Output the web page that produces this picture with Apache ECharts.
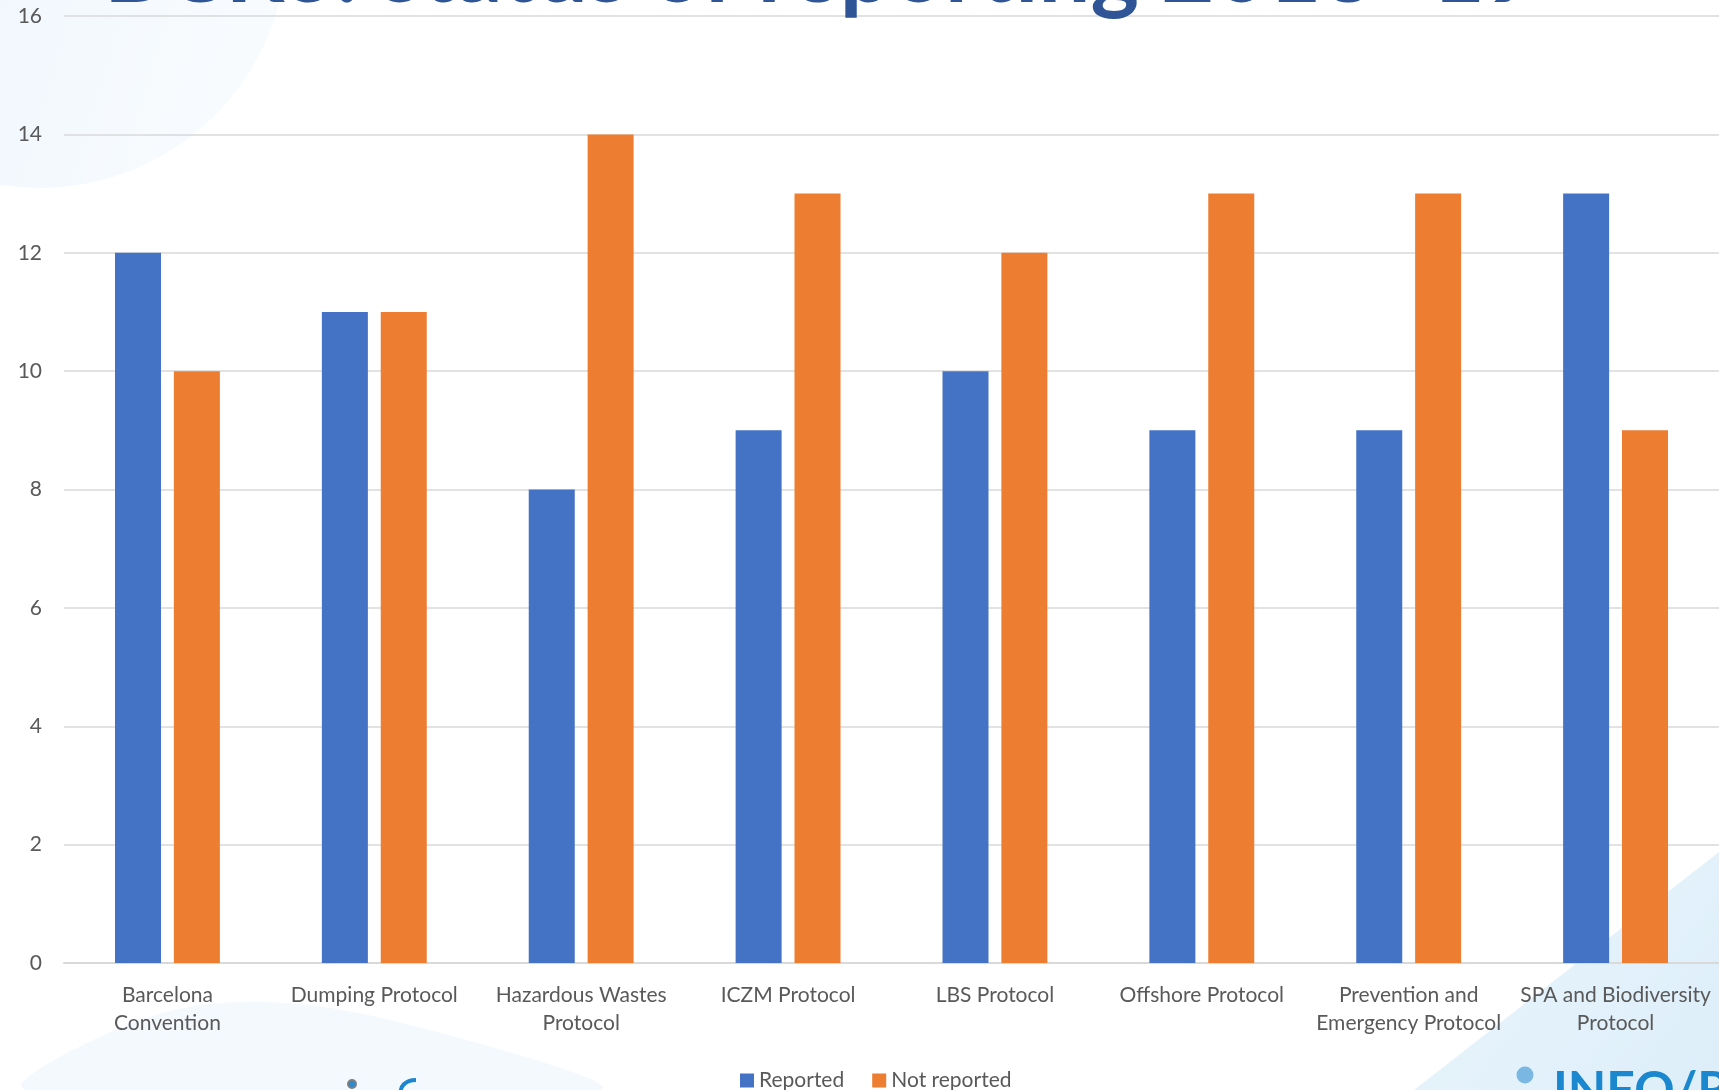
<!DOCTYPE html>
<html>
  <head>
    <meta charset="utf-8" />
    <title>BCRS status of reporting</title>
    <script src="https://cdn.jsdelivr.net/npm/echarts@6/dist/echarts.min.js"></script>
    <style>
      body {
        margin: 0;
        padding: 0;
        background: #ffffff;
      }
      #main {
        width: 1719px;
        height: 1090px;
      }
    </style>
  </head>
  <body>
    <div id="main"></div>
    <script type="text/javascript">
      var categories = [
        "Barcelona\nConvention",
        "Dumping Protocol",
        "Hazardous Wastes\nProtocol",
        "ICZM Protocol",
        "LBS Protocol",
        "Offshore Protocol",
        "Prevention and\nEmergency Protocol",
        "SPA and Biodiversity\nProtocol",
      ];
      var reported = [12, 11, 8, 9, 10, 9, 9, 13];
      var notReported = [10, 11, 14, 13, 12, 13, 13, 9];
      var seriesNames = ["Reported", "Not reported"];
      var titleText = "BCRS: status of reporting 2018 -19";

      var myChart = echarts.init(document.getElementById("main"));
      var labelColor = "#595959";
      var font = "Lato, 'Open Sans', sans-serif";

      function linear(x2, y2, c1, c2) {
        return {
          type: "linear",
          x: 0,
          y: 0,
          x2: x2,
          y2: y2,
          colorStops: [
            { offset: 0, color: c1 },
            { offset: 1, color: c2 },
          ],
        };
      }

      var option = {
        backgroundColor: "#ffffff",
        animation: false,
        grid: {
          left: 64,
          right: -3,
          top: 16,
          bottom: 127,
        },
        legend: {
          left: 735,
          top: 1065,
          itemWidth: 14,
          itemHeight: 14,
          itemGap: 28,
          icon: "rect",
          textStyle: {
            color: labelColor,
            fontSize: 21,
            fontFamily: font,
          },
          data: seriesNames,
        },
        xAxis: {
          type: "category",
          data: categories,
          axisLine: {
            lineStyle: { color: "#D9D9D9", width: 2 },
          },
          axisTick: { show: false },
          axisLabel: {
            color: labelColor,
            fontSize: 21,
            fontFamily: font,
            lineHeight: 28,
            margin: 18,
            interval: 0,
          },
        },
        yAxis: {
          type: "value",
          min: 0,
          max: 16,
          interval: 2,
          axisLine: { show: false },
          axisTick: { show: false },
          axisLabel: {
            color: labelColor,
            fontSize: 21,
            fontFamily: font,
            margin: 22,
          },
          splitLine: {
            lineStyle: { color: "#D9D9D9", width: 1.5 },
          },
        },
        series: [
          {
            name: seriesNames[0],
            type: "bar",
            data: reported,
            barWidth: 46,
            barGap: "28%",
            itemStyle: { color: "#4472C4" },
          },
          {
            name: seriesNames[1],
            type: "bar",
            data: notReported,
            barWidth: 46,
            itemStyle: { color: "#ED7D31" },
          },
        ],
        graphic: [
          // soft background shapes from the slide
          {
            type: "circle",
            z: -10,
            silent: true,
            shape: { cx: 40, cy: -59, r: 247 },
            style: { fill: linear(1, 0.3, "#E8F3FB", "#F8FBFE") },
          },
          {
            type: "polygon",
            z: -10,
            silent: true,
            shape: {
              smooth: 0.35,
              points: [
                [27, 1090],
                [140, 1020],
                [268, 1002],
                [430, 1030],
                [598, 1090],
              ],
            },
            style: { fill: "#F4F9FD" },
          },
          {
            type: "polygon",
            z: -10,
            silent: true,
            shape: {
              points: [
                [1414, 1090],
                [1719, 852],
                [1719, 1090],
              ],
            },
            style: { fill: linear(1, 1, "#EAF5FC", "#DDEEF9") },
          },
          // logo fragments at the bottom
          {
            type: "circle",
            z: 5,
            silent: true,
            shape: { cx: 352, cy: 1084, r: 4 },
            style: { fill: "#2C8AD0", stroke: "#7f7f7f", lineWidth: 2 },
          },
          {
            type: "bezierCurve",
            z: 5,
            silent: true,
            shape: {
              x1: 416,
              y1: 1080,
              cpx1: 404,
              cpy1: 1080,
              cpx2: 400,
              cpy2: 1088,
              x2: 401,
              y2: 1092,
            },
            style: { fill: null, stroke: "#1B87CF", lineWidth: 4 },
          },
          {
            type: "circle",
            z: 5,
            silent: true,
            shape: { cx: 1525, cy: 1075, r: 8.5 },
            style: { fill: "#7AB8E3" },
          },
          {
            type: "text",
            z: 5,
            silent: true,
            x: 1553,
            y: 1066,
            style: {
              text: "INFO/RAC",
              fill: "#1B87CF",
              fontSize: 50,
              fontWeight: "bold",
              fontFamily: font,
              verticalAlign: "top",
            },
          },
          {
            type: "text",
            z: 10,
            silent: true,
            x: 104,
            y: -28,
            style: {
              text: titleText,
              fill: "#2F5597",
              fontSize: 92,
              fontWeight: "bold",
              fontFamily: font,
              verticalAlign: "middle",
            },
          },
        ],
      };

      myChart.setOption(option);
    </script>
  </body>
</html>
